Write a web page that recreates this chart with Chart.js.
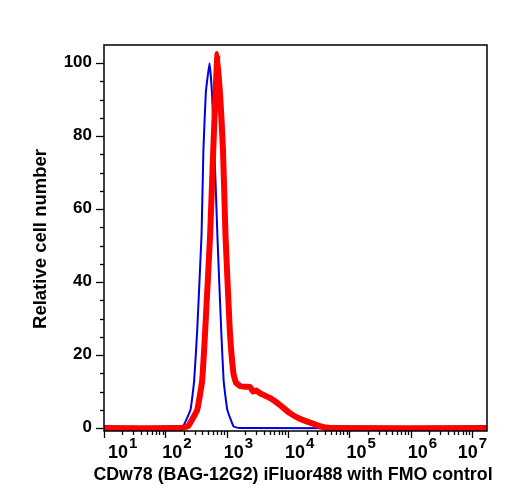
<!DOCTYPE html>
<html>
<head>
<meta charset="utf-8">
<script src="https://cdn.jsdelivr.net/npm/chart.js@4/dist/chart.umd.min.js"></script>
<style>
  html, body { margin: 0; padding: 0; background: #fff; }
  #wrap { width: 508px; height: 500px; }
</style>
</head>
<body>
<div id="wrap"><canvas id="histo" width="508" height="500"></canvas></div>
<script>
// FMO control (blue) and stained sample (red)
const blueX = [10, 151, 195, 257, 295, 331, 389, 417, 457, 525, 575, 631, 708, 813, 891, 1023, 1288, 1600, 17500000];
const blueY = [0, 0, 0.5, 5, 13, 27, 53, 76, 92, 100, 92, 76, 52, 27, 13, 5, 0.5, 0, 0];

const redX = [10, 174, 234, 331, 398, 447, 537, 603, 708, 871, 955, 1122, 1288, 1413, 1660, 1995, 2399, 2692, 3020, 3467, 5129, 7413, 10715, 15849, 22909, 33113, 47863, 17500000];
const redY = [0, 0, 0.5, 5, 13, 27, 53, 76, 102.5, 76, 53, 27, 15, 12.5, 11.5, 11.3, 11.3, 10, 10.3, 9.6, 8.2, 6.3, 4.1, 2.5, 1.5, 0.5, 0, 0];

const yTicks = [0, 20, 40, 60, 80, 100];
const xDecades = [1, 2, 3, 4, 5, 6, 7];

const X_TITLE = 'CDw78 (BAG-12G2) iFluor488 with FMO control';
const Y_TITLE = 'Relative cell number';
const FONT = '"Liberation Sans", Arial, Helvetica, sans-serif';

const pts = (xs, ys) => xs.map((x, i) => ({ x, y: ys[i] }));

const axesPlugin = {
  id: 'axes',
  afterDraw(chart) {
    const { ctx, chartArea: a, scales: { x, y } } = chart;
    ctx.save();
    ctx.strokeStyle = '#000';
    ctx.fillStyle = '#000';
    ctx.lineWidth = 1.5;
    ctx.strokeRect(a.left, a.top, a.right - a.left, a.bottom - a.top);

    // y ticks: major every 20, minor every 5
    ctx.lineWidth = 1.3;
    for (let v = 0; v <= 100; v += 5) {
      const py = Math.round(y.getPixelForValue(v)) + 0.5;
      const len = yTicks.includes(v) ? 8 : 4;
      ctx.beginPath(); ctx.moveTo(a.left - len, py); ctx.lineTo(a.left, py); ctx.stroke();
    }
    ctx.font = `bold 17px ${FONT}`;
    ctx.textAlign = 'right';
    ctx.textBaseline = 'middle';
    yTicks.forEach(v => ctx.fillText(String(v), a.left - 12, y.getPixelForValue(v) - 1));

    // x ticks: log decades with minor 2..9
    xDecades.forEach(k => {
      for (let m = 1; m <= 9; m++) {
        const val = m * Math.pow(10, k);
        if (val > x.max) break;
        const px = Math.round(x.getPixelForValue(val)) + 0.5;
        const len = m === 1 ? 7 : 4;
        ctx.beginPath(); ctx.moveTo(px, a.bottom); ctx.lineTo(px, a.bottom + len); ctx.stroke();
      }
    });
    ctx.textAlign = 'left';
    ctx.textBaseline = 'alphabetic';
    xDecades.forEach(k => {
      const px = x.getPixelForValue(Math.pow(10, k));
      ctx.font = `bold 18px ${FONT}`;
      const w1 = ctx.measureText('10').width;
      ctx.font = `bold 15px ${FONT}`;
      const w2 = ctx.measureText(String(k)).width;
      let sx = px - 3;
      sx = Math.max(sx, a.left + 4);
      sx = Math.min(sx, a.right - w1 - w2 - 1);
      ctx.font = `bold 18px ${FONT}`;
      ctx.fillText('10', sx, 458);
      ctx.font = `bold 15px ${FONT}`;
      ctx.fillText(String(k), sx + w1 + 1, 448);
    });

    // titles
    ctx.textAlign = 'center';
    ctx.textBaseline = 'middle';
    ctx.font = `bold 17.8px ${FONT}`;
    ctx.fillText(X_TITLE, 293, 475);
    ctx.font = `bold 18.5px ${FONT}`;
    ctx.translate(41, 239);
    ctx.rotate(-Math.PI / 2);
    ctx.fillText(Y_TITLE, 0, 0);
    ctx.restore();
  }
};

new Chart(document.getElementById('histo'), {
  type: 'scatter',
  data: {
    datasets: [
      {
        label: 'CDw78 iFluor488',
        data: pts(redX, redY),
        showLine: true,
        borderColor: '#ff0000',
        borderWidth: 6,
        pointRadius: 0,
        tension: 0.1,
        borderJoinStyle: 'round',
        borderCapStyle: 'round',
        order: 1
      },
      {
        label: 'FMO control',
        data: pts(blueX, blueY),
        showLine: true,
        borderColor: '#0000dd',
        borderWidth: 2,
        pointRadius: 0,
        tension: 0.1,
        order: 2
      }
    ]
  },
  options: {
    responsive: false,
    animation: false,
    layout: { padding: { left: 104, top: 45, right: 21, bottom: 69 } },
    plugins: { legend: { display: false }, tooltip: { enabled: false } },
    scales: {
      x: { type: 'logarithmic', min: 10, max: 17500000, display: false },
      y: { type: 'linear', min: -0.8, max: 105, display: false }
    }
  },
  plugins: [axesPlugin]
});
</script>
</body>
</html>
